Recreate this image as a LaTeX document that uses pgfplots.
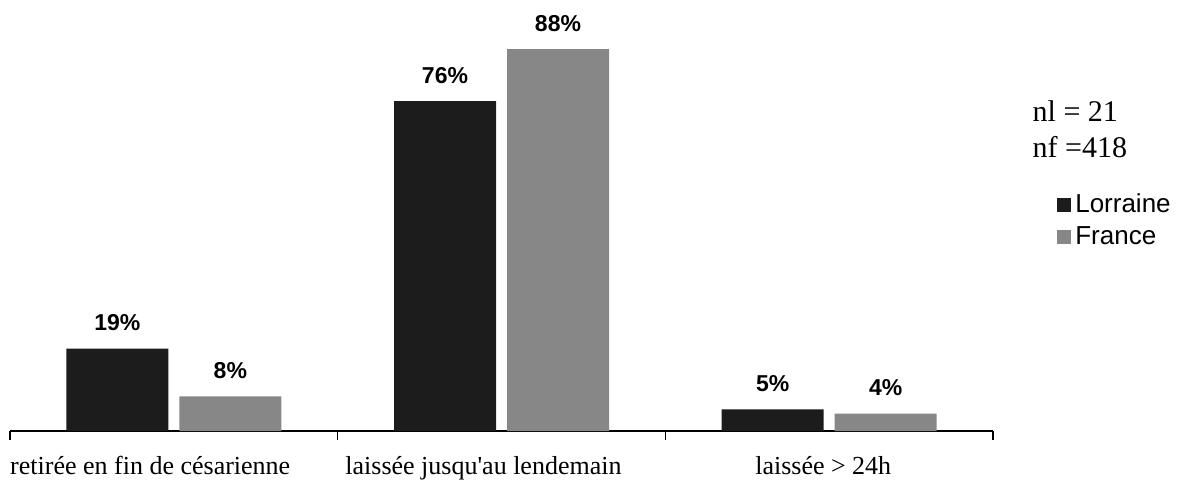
\documentclass[border=0pt]{standalone}
\usepackage{pgfplots}
\pgfplotsset{compat=1.18}
\usepackage{fontspec}
\setmainfont{Liberation Serif}
\setsansfont{Liberation Sans}
\definecolor{lor}{RGB}{28,28,28}
\definecolor{fra}{RGB}{135,135,135}
\begin{document}
\begin{tikzpicture}
\useasboundingbox (-5pt,-29pt) rectangle (584.5pt,215.5pt);
\begin{axis}[
  at={(0,0)}, anchor=south west,
  scale only axis,
  width=491.5pt, height=191pt,
  xmin=-0.5, xmax=2.5, ymin=0, ymax=88,
  ybar=5.5pt, bar width=51pt,
  axis y line=none,
  axis x line*=bottom,
  xtick={-0.072,0.945,1.982},
  xticklabels={retirée en fin de césarienne, laissée jusqu\textquotesingle au lendemain, laissée > 24h},
  major tick length=0pt,
  minor xtick={-0.5,0.5,1.5,2.5},
  minor tick length=4.5pt,
  xtick align=outside,
  xticklabel style={font=\fontsize{13}{15}\selectfont, yshift=-9pt},
  x axis line style={line width=0.7pt},
  every minor tick/.style={line width=0.7pt, black},
  clip=false,
  /pgf/number format/assume math mode=true,
  nodes near coords={\pgfmathprintnumber\pgfplotspointmeta\%},
  every node near coord/.append style={font=\sffamily\bfseries\fontsize{11.5}{13}\selectfont, anchor=base, yshift=9pt, black},
  legend style={draw=none, fill=none, at={(1.065,0.633)}, anchor=north west, font=\sffamily\fontsize{13}{15}\selectfont, row sep=1.5pt, inner sep=0pt},
  legend cell align=left,
  legend image code/.code={\fill[#1] (0pt,-3.5pt) rectangle (7pt,3.5pt);},
]
\addplot[fill=lor, draw=none] coordinates {(0,19) (1,76) (2,5)};
\addplot[fill=fra, draw=none] coordinates {(0,8) (1,88) (2,4)};
\legend{Lorraine, France}
\node[anchor=base west, font=\fontsize{15}{17}\selectfont, inner sep=0pt] at (rel axis cs:1.04,0.809) {nl = 21};
\node[anchor=base west, font=\fontsize{15}{17}\selectfont, inner sep=0pt] at (rel axis cs:1.04,0.715) {nf =418};
\end{axis}
\end{tikzpicture}
\end{document}
